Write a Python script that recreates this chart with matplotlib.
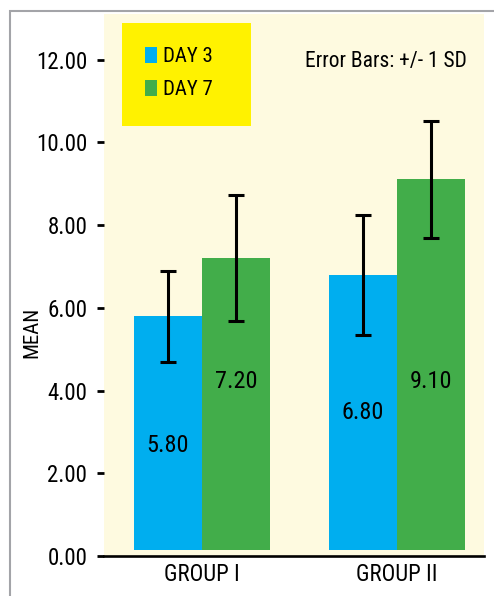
import numpy as np
import matplotlib
matplotlib.use("Agg")
import matplotlib.pyplot as plt
from matplotlib import font_manager
from matplotlib.patches import Rectangle

# data
groups = ["GROUP I", "GROUP II"]
series = ["DAY 3", "DAY 7"]
day3_mean = [5.80, 6.80]
day7_mean = [7.20, 9.10]
day3_sd = [1.10, 1.45]
day7_sd = [1.52, 1.42]
yticks = [0, 2, 4, 6, 8, 10, 12]

# where the printed values sit inside the bars (data units)
day3_label_y = [2.66, 3.46]
day7_label_y = [4.21, 4.21]

BLUE = "#00AEEF"
GREEN = "#42AD4A"
CREAM = "#FEFAE0"
YELLOW = "#FFF200"
FRAME = "#A3A4A8"


def pick_font(names):
    for n in names:
        try:
            font_manager.findfont(n, fallback_to_default=False)
            return n
        except ValueError:
            continue
    return "DejaVu Sans"


plt.rcParams["font.family"] = [pick_font(["Liberation Sans Narrow", "Roboto Condensed",
                                          "DejaVu Sans Condensed", "Liberation Sans"]), "DejaVu Sans"]

W, H = 494, 596
fig = plt.figure(figsize=(W / 100, H / 100), dpi=100)
fig.patch.set_facecolor("white")

# axes placed in pixel terms
left, right, top, bottom = 104, 484, 14, 556
ax = fig.add_axes([left / W, (H - bottom) / H, (right - left) / W, (bottom - top) / H])
ax.set_facecolor(CREAM)

# grey frame around the figure (cut off at right and bottom)
fig.add_artist(Rectangle((10 / W, -0.1), 1.2, (H - 11) / H + 0.1, transform=fig.transFigure,
                         fill=False, edgecolor=FRAME, linewidth=1.5, zorder=0))

x = np.arange(len(groups))
width = 0.35
gap = 0.15  # bars float a little above the axis line

b1 = ax.bar(x - width / 2, np.array(day3_mean) - gap, width, bottom=gap, color=BLUE,
            label=series[0], zorder=2)
b2 = ax.bar(x + width / 2, np.array(day7_mean) - gap, width, bottom=gap, color=GREEN,
            label=series[1], zorder=2)

err_kw = dict(fmt="none", ecolor="black", elinewidth=2.2, capsize=6, capthick=2.2, zorder=3)
ax.errorbar(x - width / 2, day3_mean, yerr=day3_sd, **err_kw)
ax.errorbar(x + width / 2, day7_mean, yerr=day7_sd, **err_kw)

for xi, v, ly in zip(x - width / 2, day3_mean, day3_label_y):
    ax.text(xi, ly, "%.2f" % v, ha="center", va="center", fontsize=17.5, zorder=4)
for xi, v, ly in zip(x + width / 2, day7_mean, day7_label_y):
    ax.text(xi, ly, "%.2f" % v, ha="center", va="center", fontsize=17.5, zorder=4)

ax.set_xlim(-0.503, 1.446)
ax.set_ylim(0, 13.1)

ax.set_yticks(yticks)
ax.set_yticklabels(["%.2f" % t for t in yticks])
ax.tick_params(axis="y", direction="out", length=5, width=2, pad=7, labelsize=16.5)
ax.set_xticks(x)
ax.set_xticklabels(groups)
ax.tick_params(axis="x", length=0, pad=5, labelsize=16.5)

for s in ["top", "right", "left"]:
    ax.spines[s].set_visible(False)
ax.spines["bottom"].set_linewidth(1.9)

ax.set_ylabel("MEAN", fontsize=15)
ax.yaxis.set_label_coords((32 - left) / (right - left), (bottom - 332) / (bottom - top))
ax.yaxis.label.set_va("center")

# yellow legend box
ax.add_patch(Rectangle(((122 - left) / (right - left), (bottom - 126) / (bottom - top)),
                       (251 - 122) / (right - left), (126 - 23) / (bottom - top),
                       transform=ax.transAxes, facecolor=YELLOW, edgecolor="none", zorder=1))
ax.legend(handles=[b1, b2], loc="upper left", frameon=False, fontsize=15,
          bbox_to_anchor=((145 - left) / (right - left), (bottom - 47) / (bottom - top)),
          borderpad=0, borderaxespad=0, handlelength=0.58, handleheight=0.81,
          handletextpad=0.29, labelspacing=0.66)

ax.text((467 - left) / (right - left), (bottom - 62) / (bottom - top), "Error Bars: +/- 1 SD",
        transform=ax.transAxes, ha="right", va="center", fontsize=15.5)

fig.savefig("out.png", dpi=100, facecolor="white")
